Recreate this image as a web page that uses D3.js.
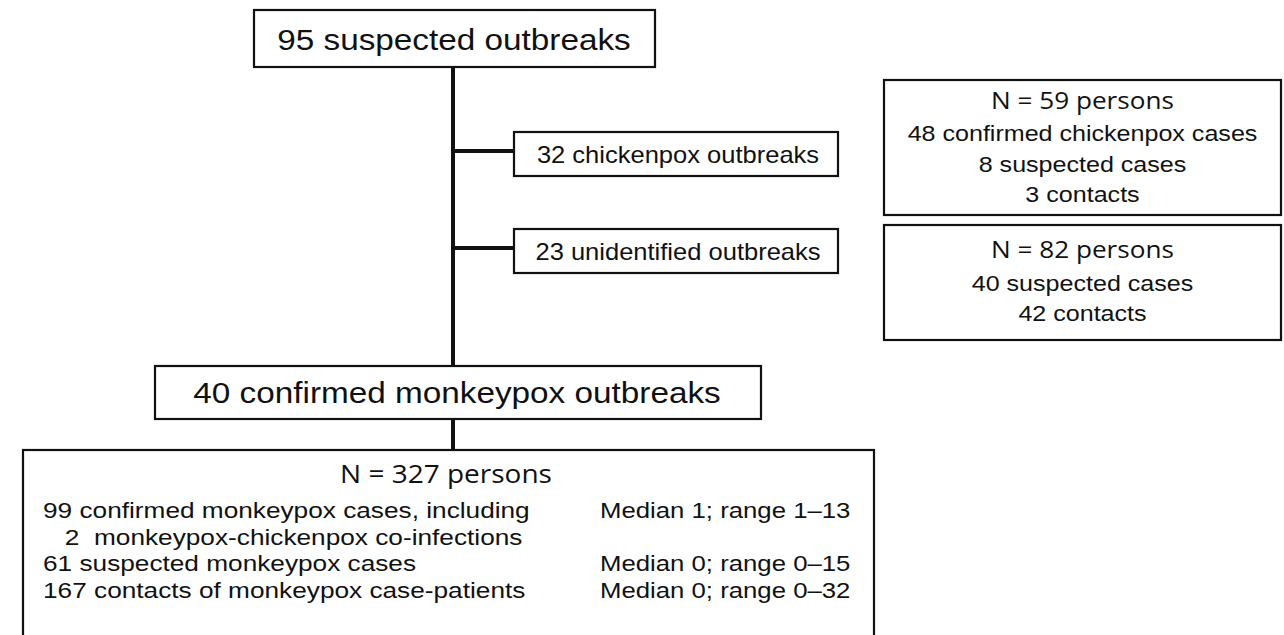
<!DOCTYPE html>
<head>
<meta charset="utf-8">
<script src="https://cdn.jsdelivr.net/npm/d3@7"></script>
<style>
body { margin: 0; background: #fff; }
text { fill: #111; }
</style>
</head>
<body>
<script>

// flowchart text
var topLabel = "95 suspected outbreaks"
var branchLabels = ["32 chickenpox outbreaks", "23 unidentified outbreaks"]
var sideTitles = ["N = 59 persons", "N = 82 persons"]
var sideLines = [
    ["48 confirmed chickenpox cases", "8 suspected cases", "3 contacts"],
    ["40 suspected cases", "42 contacts"]
]
var confirmedLabel = "40 confirmed monkeypox outbreaks"
var personsTitle = "N = 327 persons"
var personGroups = [
    "99 confirmed monkeypox cases, including",
    "   2  monkeypox-chickenpox co-infections",
    "61 suspected monkeypox cases",
    "167 contacts of monkeypox case-patients"
]
var groupStats = ["Median 1; range 1\u201313", "", "Median 0; range 0\u201315", "Median 0; range 0\u201332"]

var width = 1284, height = 635
var arial = "'Liberation Sans', Arial, sans-serif"
var segoe = "'Open Sans', 'Noto Sans', sans-serif"

var svg = d3.select("body").append("svg")
    .attr("width", width)
    .attr("height", height)

var spineX = 453

function box(x, y, w, h) {
    svg.append("rect")
        .attr("x", x).attr("y", y)
        .attr("width", w).attr("height", h)
        .attr("fill", "#fff")
        .attr("stroke", "#111")
        .attr("stroke-width", 2.2)
}

function line(x1, y1, x2, y2) {
    svg.append("line")
        .attr("x1", x1).attr("y1", y1)
        .attr("x2", x2).attr("y2", y2)
        .attr("stroke", "#111")
        .attr("stroke-width", 4)
}

// the original figure is a bit stretched sideways, so text gets an x scale
function label(x, y, str, font, size, sx, anchor) {
    svg.append("text")
        .attr("transform", "translate(" + x + "," + y + ") scale(" + sx + ",1)")
        .attr("text-anchor", anchor || "middle")
        .attr("xml:space", "preserve")
        .style("font-family", font)
        .style("font-size", size + "px")
        .text(str)
}

// connectors first so boxes sit on top
line(spineX, 66, spineX, 367)
line(spineX, 418, spineX, 451)

var branchY = d3.scalePoint().domain(branchLabels).range([151, 248])
branchLabels.forEach(function(d) {
    line(spineX - 2, branchY(d), 515, branchY(d))
})

// top box
box(254, 10, 401, 57)
label(454, 50, topLabel, arial, 30, 1.11)

// branch boxes
branchLabels.forEach(function(d) {
    box(514, branchY(d) - 19, 324, 44)
    label(678, branchY(d) + 12, d, arial, 23, 1.11)
})

// side boxes
var sideTop = [80, 225], sideH = [135, 115]
var titleOff = [29, 33], lineOff = [[61, 92, 122], [66, 96]]
sideTitles.forEach(function(t, i) {
    box(884, sideTop[i], 397, sideH[i])
    var cx = 1082.5
    label(cx, sideTop[i] + titleOff[i], t, segoe, 24, 1.09)
    sideLines[i].forEach(function(s, j) {
        label(cx, sideTop[i] + lineOff[i][j], s, arial, 22, 1.14)
    })
})

// confirmed box
box(155, 366, 606, 53)
label(457, 403, confirmedLabel, arial, 30, 1.11)

// persons box (runs off the bottom)
box(23, 450, 851, 200)
label(446, 483, personsTitle, segoe, 25, 1.12)

var rowY = d3.scaleLinear().domain([0, personGroups.length - 1]).range([518, 598])
personGroups.forEach(function(d, i) {
    label(43, rowY(i), d, arial, 21.5, 1.22, "start")
    label(600, rowY(i), groupStats[i], arial, 22, 1.17, "start")
})

</script>
</body>
</html>
